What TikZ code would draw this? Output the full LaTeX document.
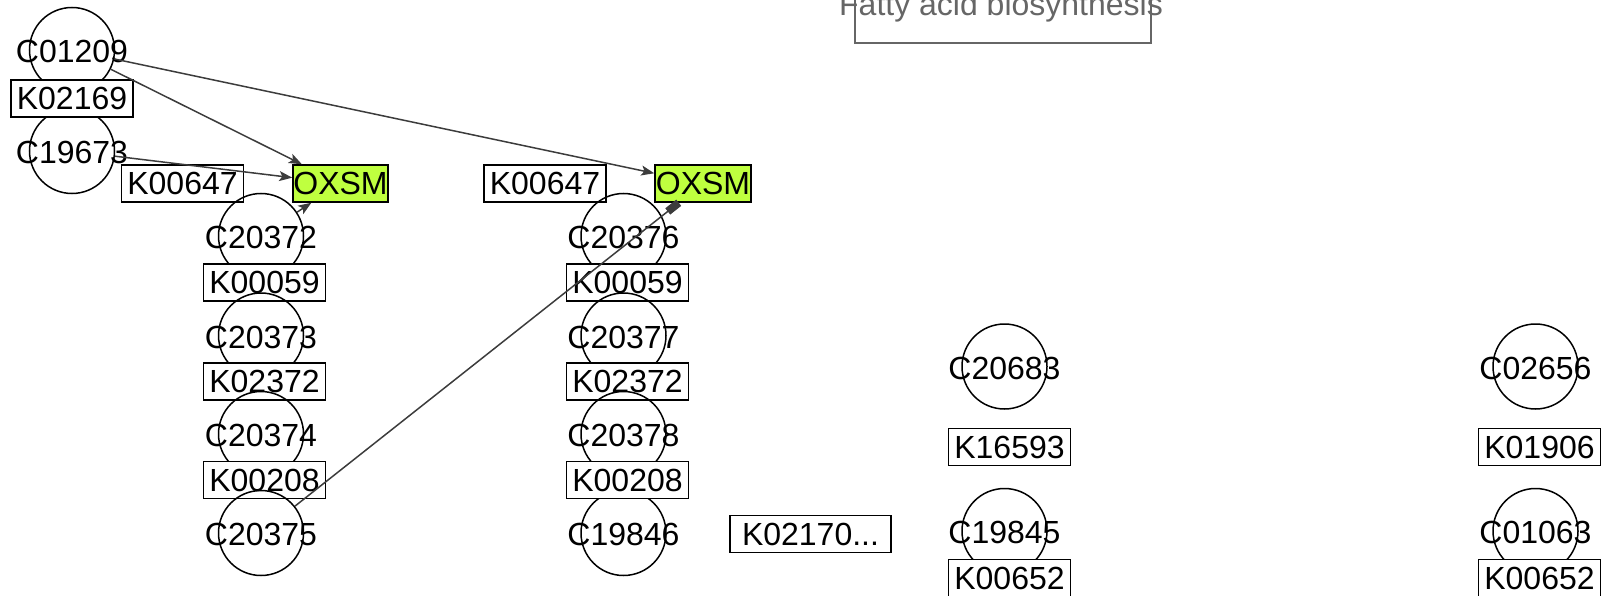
\documentclass[tikz,border=0pt]{standalone}
\usepackage{fontspec}
\setmainfont{Liberation Sans}
\usetikzlibrary{arrows.meta}
\definecolor{oxsm}{RGB}{191,255,63}
\definecolor{edgec}{RGB}{60,60,60}
\definecolor{titlec}{RGB}{102,102,102}
\begin{document}
\begin{tikzpicture}[x=1pt,y=-1pt,
 every node/.append style={font=\fontsize{32}{32}\selectfont},
 every label/.append style={yshift=-1.5pt},
 circ/.style={circle,draw=black,line width=1.5pt,minimum size=85pt,inner sep=0pt},
 kbox/.style={rectangle,draw=black,fill=white,line width=1.5pt,minimum width=122pt,minimum height=37pt,inner sep=0pt},
 gene/.style={kbox,fill=oxsm,minimum width=95pt},
 link/.style={draw=edgec,line width=1.5pt,-{Stealth[length=13pt,width=10pt,inset=3pt]}},
 block/.style={draw=edgec,line width=1.5pt,-{Rectangle[length=14pt,width=8pt]}}]
\useasboundingbox (0,0) rectangle (1605,596);
\clip (0,0) rectangle (1605,596);

% title
\node[text=titlec, anchor=base] (title) at (1001,16) {Fatty acid biosynthesis};
\draw[titlec, line width=1.5pt] (855,-20) -- (855,43) -- (1151,43) -- (1151,-20);

% column 0
\node[circ, label=center:C01209] (C01209) at (72,50) {};
\node[circ, label=center:C19673] (C19673) at (72,151) {};
\node[kbox] (K02169) at (72,98.5) {K02169};

% column 1
\node[kbox] (K00647a) at (182.5,183.5) {K00647};
\node[circ, label=center:C20372] (C20372) at (261,236) {};
\node[kbox] (K00059a) at (264.5,282.5) {K00059};
\node[circ, label=center:C20373] (C20373) at (261,335.5) {};
\node[kbox] (K02372a) at (264.5,381.5) {K02372};
\node[circ, label=center:C20374] (C20374) at (261,434) {};
\node[kbox] (K00208a) at (264.5,480) {K00208};
\node[circ, label=center:C20375] (C20375) at (261,533) {};
\node[gene] (OXSMa) at (340.5,183.5) {OXSM};

% column 2
\node[kbox] (K00647b) at (545,183.5) {K00647};
\node[circ, label=center:C20376] (C20376) at (623.5,236) {};
\node[kbox] (K00059b) at (627.5,282.5) {K00059};
\node[circ, label=center:C20377] (C20377) at (623.5,335.5) {};
\node[kbox] (K02372b) at (627.5,381.5) {K02372};
\node[circ, label=center:C20378] (C20378) at (623.5,434) {};
\node[circ, label=center:C19846] (C19846) at (623.5,533) {};
\node[kbox] (K00208b) at (627.5,480) {K00208};
\node[gene, minimum width=96pt] (OXSMb) at (703,183.5) {OXSM};

% column 3
\node[kbox, minimum width=161pt] (K02170) at (810.5,534) {K02170...};
\node[circ, label=center:C20683] (C20683) at (1004.5,366.5) {};
\node[kbox] (K16593) at (1009.5,447) {K16593};
\node[circ, label=center:C19845] (C19845) at (1004.5,531) {};
\node[kbox] (K00652a) at (1009.5,578) {K00652};

% column 4
\node[circ, label=center:C02656] (C02656) at (1535.5,366.5) {};
\node[kbox] (K01906) at (1539.5,447) {K01906};
\node[circ, label=center:C01063] (C01063) at (1535.5,531) {};
\node[kbox] (K00652b) at (1539.5,578) {K00652};

% edges
\draw[link] (C01209) -- (OXSMa);
\draw[link] (C01209) -- (OXSMb);
\draw[link] (C19673) -- (OXSMa);
\draw[link] (C20372) -- (OXSMa);
\draw[block] (C20375) -- (OXSMb);
\end{tikzpicture}
\end{document}
